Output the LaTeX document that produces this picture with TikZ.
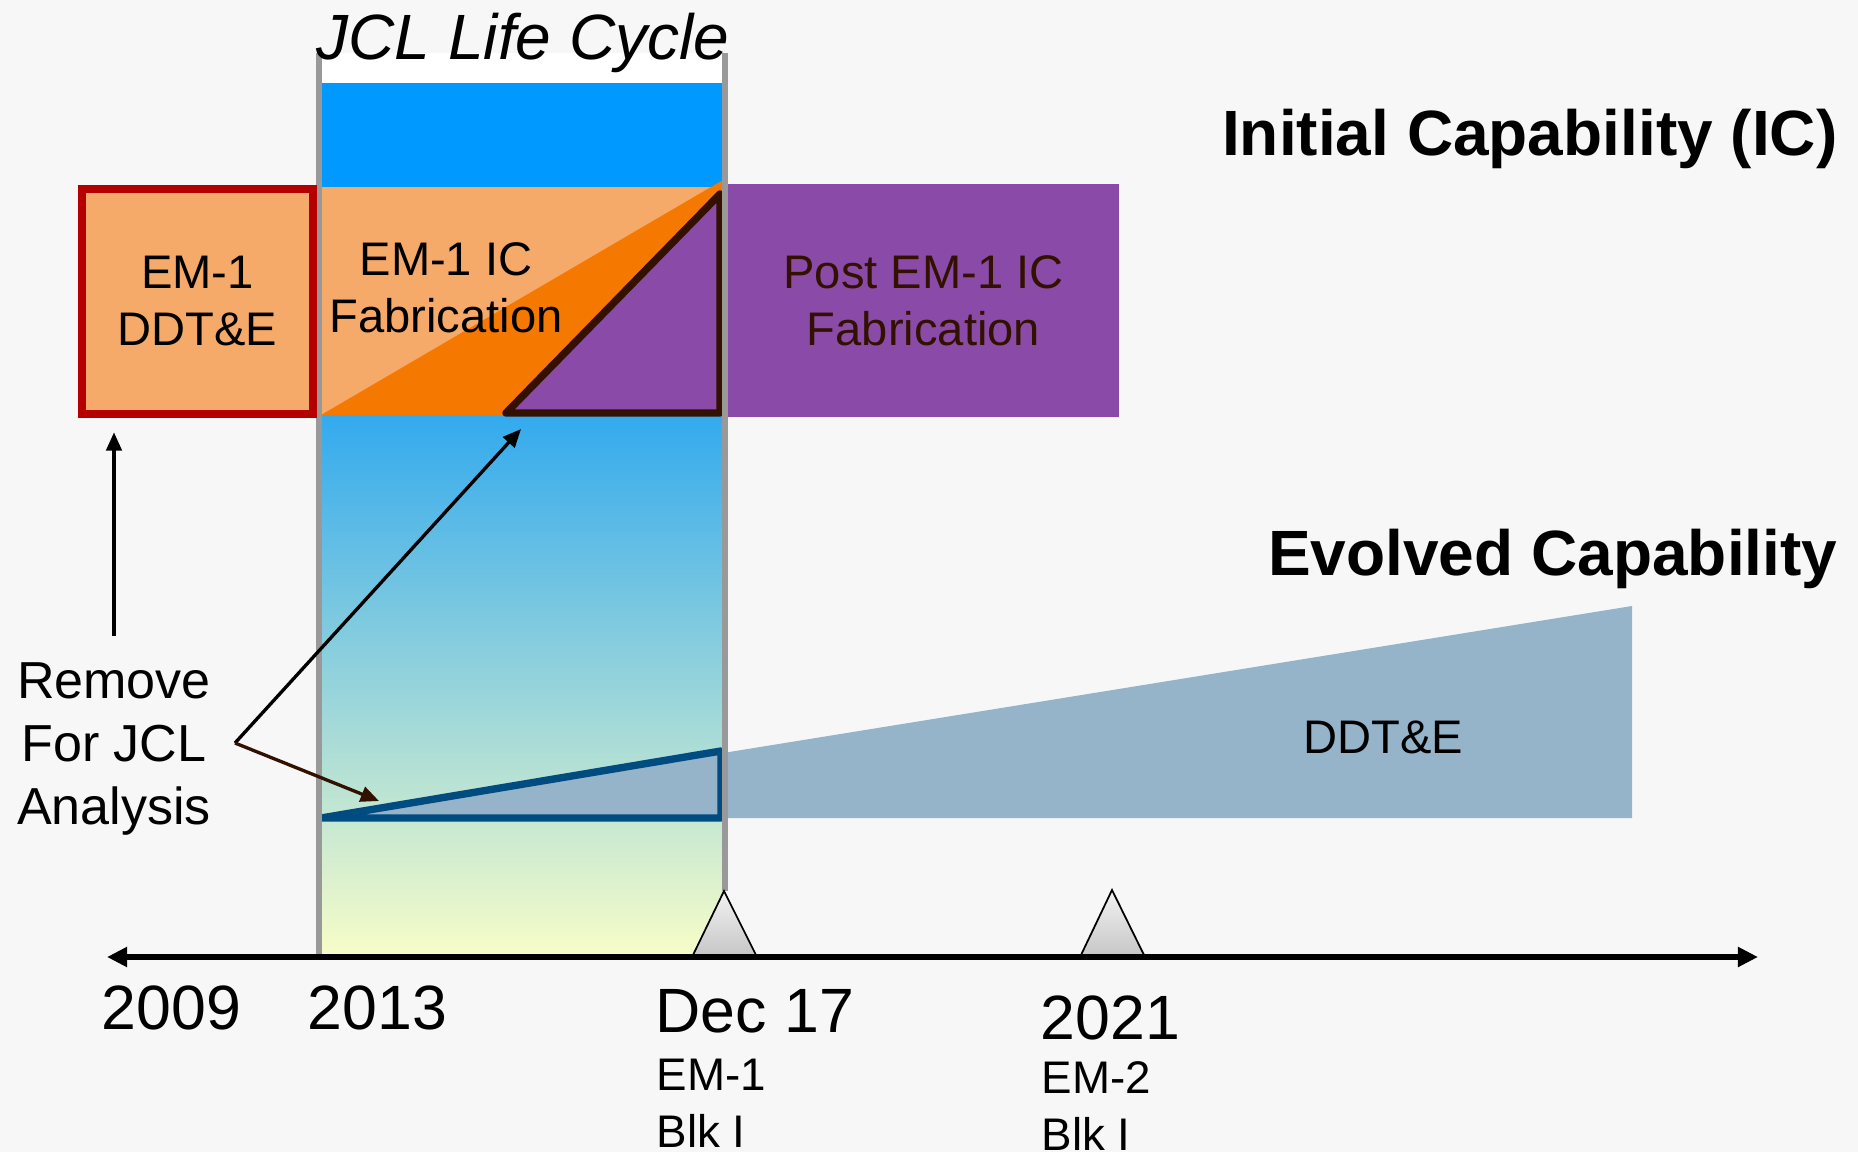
\documentclass[tikz,border=0pt]{standalone}
\usepackage{fontspec}
\setmainfont{Liberation Sans}
\usetikzlibrary{arrows.meta}

\definecolor{bgGrey}{HTML}{F7F7F7}
\definecolor{jclBlue}{HTML}{0099FF}
\definecolor{skyTop}{HTML}{33AAEE}
\definecolor{skyMid}{HTML}{9DD7E1}
\definecolor{skyLow}{HTML}{F8FDC8}
\definecolor{paleOrange}{HTML}{F5AA6A}
\definecolor{deepOrange}{HTML}{F57800}
\definecolor{icPurple}{HTML}{8A4AA8}
\definecolor{darkBrown}{HTML}{331100}
\definecolor{boxRed}{HTML}{B40000}
\definecolor{lineGrey}{HTML}{999999}
\definecolor{evoBlue}{HTML}{95B3C9}
\definecolor{evoEdge}{HTML}{004C80}

\begin{document}
\begin{tikzpicture}[x=0.01cm, y=-0.01cm,
    heading/.style={font=\bfseries\fontsize{18.2}{21.8}\selectfont, inner sep=0},
    year/.style={font=\fontsize{17.8}{21.4}\selectfont, inner sep=0},
    flight/.style={font=\fontsize{13}{16.2}\selectfont, align=left, inner sep=0},
    phase/.style={font=\fontsize{13.4}{16.2}\selectfont, align=center, inner sep=0},
    tip/.style={-{Triangle[length=5.2pt,width=4.4pt]}, line width=0.95pt},
    mstone/.style={top color=white!95!black, bottom color=black!22, draw=black, line width=0.5pt}]

\fill[bgGrey] (0,0) rectangle (1858,1152);

% JCL window
\fill[white] (321,53) rectangle (723,83);
\fill[jclBlue] (321,83) rectangle (723,187);
\shade[top color=skyTop, middle color=skyMid, bottom color=skyLow]
    (321,415) rectangle (723,957);

% initial capability band
\fill[paleOrange] (321,187) rectangle (723,415);
\fill[deepOrange] (321,415) -- (723,180) -- (723,415) -- cycle;
\filldraw[fill=icPurple, draw=darkBrown, line width=2.1pt, line join=round]
    (506,413) -- (720,194) -- (720,413) -- cycle;

% evolved capability
\fill[evoBlue] (321,818) -- (1632,606) -- (1632,818) -- cycle;
\draw[evoEdge, line width=2.1pt, line join=round]
    (321,818) -- (721,751) -- (721,818) -- cycle;

\draw[lineGrey, line width=1.7pt] (319,53) -- (319,957) (725,53) -- (725,891);

\node[draw=boxRed, fill=paleOrange, line width=2.2pt, phase,
      minimum width=2.31cm, minimum height=2.25cm] (ddte) at (197.5,301.5) {EM-1\\DDT\&E};
\node[fill=icPurple, text=darkBrown, phase,
      minimum width=3.91cm, minimum height=2.33cm] (post) at (923.5,300.5) {Post EM-1 IC\\Fabrication};
\node[phase, anchor=north] (fab) at (446,242) {EM-1 IC\\Fabrication};

% time line
\coordinate (axL) at (107,957);
\coordinate (axR) at (1758,957);
\draw[{Triangle[length=5.7pt,width=5.4pt]}-{Triangle[length=5.7pt,width=5.4pt]}, line width=1.8pt]
    (axL) -- (axR);
\shadedraw[mstone] (693,955) -- (724,891) -- (756,955) -- cycle;
\shadedraw[mstone] (1081,955) -- (1112,890) -- (1144,955) -- cycle;

\node[year, anchor=base west] (y09) at (101,1029) {2009};
\node[year, anchor=base west] (y13) at (307,1029) {2013};
\node[year, anchor=base west] (dec) at (655,1032) {Dec 17};
\node[flight, anchor=north west] (em1) at (656,1058) {EM-1\\Blk I};
\node[year, anchor=base west] (y21) at (1040,1039) {2021};
\node[flight, anchor=north west] (em2) at (1041,1061) {EM-2\\Blk I};

% headings
\node[font=\itshape\fontsize{18.2}{21.8}\selectfont, inner sep=0, anchor=base] (jcl) at (523,60) {JCL Life Cycle};
\node[heading, anchor=base east] (ic) at (1838,156) {Initial Capability (IC)};
\node[heading, anchor=base east] (ec) at (1838,575) {Evolved Capability};
\node[phase, anchor=base] (evo) at (1383,753) {DDT\&E};

% remove note
\node[font=\fontsize{14.8}{17.9}\selectfont, align=center, inner sep=0, anchor=north] (rm) at (114,662)
    {Remove\\For JCL\\Analysis};
\coordinate (upStart) at (114,636);
\coordinate (fork) at (235,743);
\coordinate (icTip) at (521,429);
\coordinate (evTip) at (379,801);
\draw[tip, shorten >=4.1pt] (upStart) -- (upStart |- ddte.south);
\draw[tip] (fork) -- (icTip);
\draw[tip, darkBrown] (fork) -- (evTip);

\end{tikzpicture}
\end{document}
